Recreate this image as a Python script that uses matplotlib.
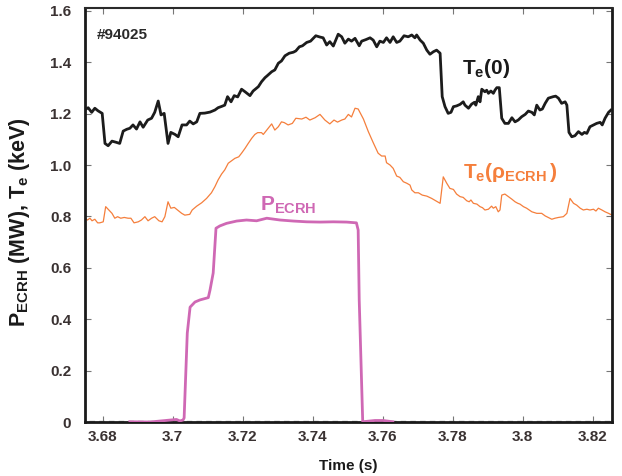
import matplotlib
matplotlib.use("Agg")
import matplotlib.pyplot as plt

plt.rcParams["font.family"] = ["Liberation Sans", "DejaVu Sans"]
plt.rcParams["font.weight"] = "bold"
plt.rcParams["mathtext.fontset"] = "custom"
plt.rcParams["mathtext.rm"] = "Liberation Sans:bold"
plt.rcParams["mathtext.bf"] = "Liberation Sans:bold"
plt.rcParams["mathtext.it"] = "Liberation Sans:bold"

# central electron temperature Te(0), keV
te0_time = [
    3.6749, 3.6759, 3.6769, 3.6778, 3.6787, 3.6799, 3.6807, 3.6816, 3.6827, 3.6840,
    3.6849, 3.6859, 3.6869, 3.6878, 3.6887, 3.6897, 3.6907, 3.6916, 3.6929, 3.6940,
    3.6949, 3.6959, 3.6967, 3.6976, 3.6987, 3.6995, 3.7007, 3.7016, 3.7027, 3.7040,
    3.7049, 3.7059, 3.7069, 3.7078, 3.7092, 3.7107, 3.7121, 3.7130, 3.7140, 3.7149,
    3.7157, 3.7167, 3.7176, 3.7186, 3.7197, 3.7207, 3.7221, 3.7230, 3.7245, 3.7254,
    3.7264, 3.7270, 3.7283, 3.7292, 3.7302, 3.7311, 3.7321, 3.7333, 3.7345, 3.7352,
    3.7362, 3.7371, 3.7383, 3.7394, 3.7409, 3.7421, 3.7430, 3.7440, 3.7449, 3.7459,
    3.7473, 3.7483, 3.7492, 3.7502, 3.7511, 3.7521, 3.7533, 3.7540, 3.7552, 3.7564,
    3.7573, 3.7583, 3.7592, 3.7602, 3.7611, 3.7621, 3.7630, 3.7640, 3.7649, 3.7661,
    3.7673, 3.7683, 3.7692, 3.7697, 3.7707, 3.7716, 3.7726, 3.7735, 3.7745, 3.7754,
    3.7764, 3.7770, 3.7778, 3.7787, 3.7795, 3.7802, 3.7811, 3.7821, 3.7830, 3.7835,
    3.7845, 3.7854, 3.7862, 3.7866, 3.7873, 3.7878, 3.7883, 3.7892, 3.7897, 3.7902,
    3.7909, 3.7916, 3.7921, 3.7926, 3.7933, 3.7940, 3.7949, 3.7959, 3.7969, 3.7978,
    3.7987, 3.7997, 3.8007, 3.8016, 3.8026, 3.8033, 3.8040, 3.8049, 3.8056, 3.8064,
    3.8073, 3.8087, 3.8094, 3.8102, 3.8111, 3.8121, 3.8126, 3.8132, 3.8140, 3.8149,
    3.8159, 3.8169, 3.8176, 3.8183, 3.8192, 3.8202, 3.8211, 3.8221, 3.8227, 3.8235,
    3.8245, 3.8252,
]
te0_kev = [
    1.214, 1.223, 1.205, 1.221, 1.211, 1.201, 1.084, 1.075, 1.093, 1.088,
    1.084, 1.132, 1.139, 1.143, 1.156, 1.140, 1.168, 1.147, 1.175, 1.182,
    1.205, 1.249, 1.195, 1.201, 1.084, 1.127, 1.119, 1.110, 1.156, 1.156,
    1.171, 1.160, 1.168, 1.201, 1.202, 1.206, 1.214, 1.223, 1.228, 1.233,
    1.266, 1.246, 1.270, 1.265, 1.295, 1.285, 1.270, 1.288, 1.305, 1.324,
    1.340, 1.347, 1.363, 1.370, 1.396, 1.405, 1.425, 1.435, 1.439, 1.444,
    1.460, 1.464, 1.477, 1.482, 1.503, 1.498, 1.495, 1.467, 1.480, 1.463,
    1.509, 1.499, 1.474, 1.490, 1.482, 1.493, 1.464, 1.482, 1.488, 1.495,
    1.486, 1.460, 1.482, 1.477, 1.495, 1.477, 1.499, 1.477, 1.482, 1.503,
    1.499, 1.506, 1.495, 1.506, 1.486, 1.474, 1.447, 1.431, 1.441, 1.447,
    1.435, 1.266, 1.227, 1.201, 1.205, 1.227, 1.230, 1.236, 1.246, 1.233,
    1.221, 1.237, 1.244, 1.233, 1.266, 1.246, 1.295, 1.285, 1.291, 1.279,
    1.288, 1.279, 1.292, 1.301, 1.301, 1.182, 1.162, 1.162, 1.184, 1.168,
    1.175, 1.188, 1.197, 1.210, 1.205, 1.195, 1.233, 1.214, 1.218, 1.240,
    1.260, 1.266, 1.268, 1.260, 1.240, 1.246, 1.233, 1.127, 1.110, 1.114,
    1.130, 1.119, 1.127, 1.123, 1.149, 1.156, 1.162, 1.166, 1.156, 1.182,
    1.205, 1.214,
]

# electron temperature at the ECRH deposition radius, keV
te_rho_time = [
    3.6749, 3.6757, 3.6764, 3.6770, 3.6778, 3.6786, 3.6792, 3.6802, 3.6809, 3.6818,
    3.6827, 3.6835, 3.6843, 3.6852, 3.6862, 3.6873, 3.6881, 3.6890, 3.6902, 3.6911,
    3.6921, 3.6930, 3.6940, 3.6949, 3.6961, 3.6970, 3.6978, 3.6987, 3.6995, 3.7005,
    3.7014, 3.7026, 3.7035, 3.7049, 3.7056, 3.7069, 3.7083, 3.7097, 3.7111, 3.7121,
    3.7130, 3.7140, 3.7149, 3.7159, 3.7169, 3.7178, 3.7189, 3.7197, 3.7207, 3.7216,
    3.7226, 3.7235, 3.7243, 3.7254, 3.7259, 3.7270, 3.7283, 3.7292, 3.7302, 3.7311,
    3.7319, 3.7330, 3.7342, 3.7352, 3.7369, 3.7381, 3.7392, 3.7407, 3.7421, 3.7435,
    3.7449, 3.7461, 3.7471, 3.7483, 3.7492, 3.7502, 3.7511, 3.7521, 3.7530, 3.7545,
    3.7559, 3.7573, 3.7587, 3.7597, 3.7607, 3.7611, 3.7621, 3.7630, 3.7640, 3.7649,
    3.7659, 3.7669, 3.7678, 3.7683, 3.7692, 3.7702, 3.7713, 3.7726, 3.7740, 3.7764,
    3.7773, 3.7783, 3.7792, 3.7802, 3.7811, 3.7821, 3.7830, 3.7840, 3.7847, 3.7852,
    3.7859, 3.7869, 3.7878, 3.7885, 3.7892, 3.7902, 3.7911, 3.7916, 3.7923, 3.7930,
    3.7935, 3.7940, 3.7949, 3.7959, 3.7969, 3.7978, 3.7986, 3.7992, 3.8002, 3.8011,
    3.8026, 3.8040, 3.8054, 3.8064, 3.8073, 3.8083, 3.8092, 3.8102, 3.8116, 3.8126,
    3.8135, 3.8145, 3.8154, 3.8164, 3.8173, 3.8183, 3.8192, 3.8202, 3.8209, 3.8216,
    3.8226, 3.8235, 3.8245, 3.8255,
]
te_rho_kev = [
    0.793, 0.786, 0.793, 0.783, 0.789, 0.775, 0.775, 0.779, 0.838, 0.825,
    0.812, 0.793, 0.799, 0.793, 0.796, 0.793, 0.793, 0.775, 0.779, 0.786,
    0.799, 0.783, 0.793, 0.799, 0.783, 0.779, 0.799, 0.857, 0.832, 0.835,
    0.825, 0.812, 0.805, 0.808, 0.825, 0.840, 0.853, 0.870, 0.892, 0.916,
    0.942, 0.965, 0.981, 1.007, 1.017, 1.026, 1.032, 1.046, 1.065, 1.084,
    1.104, 1.119, 1.126, 1.126, 1.119, 1.138, 1.160, 1.136, 1.149, 1.168,
    1.165, 1.156, 1.162, 1.182, 1.179, 1.186, 1.175, 1.184, 1.197, 1.175,
    1.160, 1.175, 1.167, 1.175, 1.179, 1.197, 1.187, 1.221, 1.218, 1.179,
    1.130, 1.087, 1.046, 1.035, 1.035, 1.009, 1.000, 0.987, 0.957, 0.952,
    0.935, 0.929, 0.922, 0.903, 0.892, 0.892, 0.883, 0.879, 0.870, 0.851,
    0.954, 0.929, 0.909, 0.905, 0.887, 0.877, 0.874, 0.861, 0.857, 0.864,
    0.851, 0.848, 0.838, 0.834, 0.825, 0.828, 0.840, 0.832, 0.838, 0.818,
    0.825, 0.883, 0.887, 0.877, 0.867, 0.857, 0.851, 0.848, 0.838, 0.832,
    0.818, 0.812, 0.812, 0.802, 0.796, 0.789, 0.793, 0.796, 0.799, 0.812,
    0.870, 0.851, 0.844, 0.832, 0.825, 0.828, 0.825, 0.828, 0.821, 0.832,
    0.825, 0.818, 0.812, 0.805,
]

# ECRH power, MW
p_time = [
    3.6878, 3.6935, 3.7011, 3.7021, 3.7030, 3.7033, 3.7042, 3.7050, 3.7064, 3.7078,
    3.7102, 3.7107, 3.7116, 3.7124, 3.7135, 3.7154, 3.7183, 3.7211, 3.7240, 3.7269,
    3.7307, 3.7345, 3.7383, 3.7421, 3.7459, 3.7497, 3.7525, 3.7530, 3.7533, 3.7543,
    3.7578, 3.7601, 3.7629,
]
p_mw = [
    0.001, 0.000, 0.010, 0.004, 0.008, 0.016, 0.346, 0.447, 0.467, 0.475,
    0.484, 0.514, 0.580, 0.754, 0.763, 0.773, 0.782, 0.786, 0.783, 0.793,
    0.786, 0.782, 0.779, 0.778, 0.779, 0.778, 0.775, 0.747, 0.475, 0.001,
    0.006, 0.006, 0.001,
]

x_ticks = [3.68, 3.70, 3.72, 3.74, 3.76, 3.78, 3.80, 3.82]
x_tick_labels = ["3.68", "3.7", "3.72", "3.74", "3.76", "3.78", "3.8", "3.82"]
y_ticks = [0, 0.2, 0.4, 0.6, 0.8, 1.0, 1.2, 1.4, 1.6]
y_tick_labels = ["0", "0.2", "0.4", "0.6", "0.8", "1.0", "1.2", "1.4", "1.6"]

BLACK = "#1c1c1c"
ORANGE = "#f57f3c"
MAGENTA = "#cf68b4"
TICK_TEXT = "#3a3232"

fig = plt.figure(figsize=(6.22, 4.76), dpi=100)
ax = fig.add_axes([0.1367, 0.1134, 0.8473, 0.8698])

ax.plot([3.676, 3.825], [0.004, 0.004], color="#9a9a9a", lw=1.0, ls=(0, (4, 3)), zorder=1)
ax.plot(te_rho_time, te_rho_kev, color=ORANGE, lw=0.9, zorder=2)
ax.plot(p_time, p_mw, color=MAGENTA, lw=2.0, zorder=3)
ax.plot(te0_time, te0_kev, color=BLACK, lw=2.0, zorder=4)

ax.set_xlim(3.675, 3.8255)
ax.set_ylim(0, 1.611)
ax.set_xticks(x_ticks)
ax.set_xticklabels(x_tick_labels)
ax.set_yticks(y_ticks)
ax.set_yticklabels(y_tick_labels)
ax.tick_params(direction="in", length=4, width=0.8, color="#777777",
               top=True, right=True, labelsize=11, labelcolor=TICK_TEXT)
ax.tick_params(axis="x", pad=6)
ax.tick_params(axis="y", pad=10)
for lab in ax.get_xticklabels() + ax.get_yticklabels():
    lab.set_fontweight("bold")

for side in ["left", "bottom", "right"]:
    ax.spines[side].set_linewidth(2.0)
    ax.spines[side].set_color("#1a1a1a")
ax.spines["top"].set_linewidth(1.5)
ax.spines["top"].set_color("#2a2a2a")

ax.set_xlabel("Time (s)", fontsize=11, fontweight="bold", color="#1a1a1a")
ax.xaxis.set_label_coords(0.5, -0.09)
ax.set_ylabel(r"$\mathregular{P_{ECRH}}$ (MW), $\mathregular{T_e}$ (keV)",
              fontsize=15.5, fontweight="bold", color="#1a1a1a")
ax.yaxis.set_label_coords(-0.1, 0.483)

ax.text(0.023, 0.935, "#94025", transform=ax.transAxes, fontsize=11,
        fontweight="bold", color="#2a2a2a", ha="left", va="center")
ax.text(3.7827, 1.375, r"$\mathregular{T_e(0)}$", fontsize=15, color="#1a1a1a",
        ha="left", va="center")
ax.text(3.7830, 0.970, r"$\mathregular{T_e(\rho_{ECRH}\,)}$", fontsize=15, color=ORANGE,
        ha="left", va="center")
ax.text(3.7249, 0.845, r"$\mathregular{P_{ECRH}}$", fontsize=15, color=MAGENTA,
        ha="left", va="center")

fig.savefig("out.png", dpi=100)
